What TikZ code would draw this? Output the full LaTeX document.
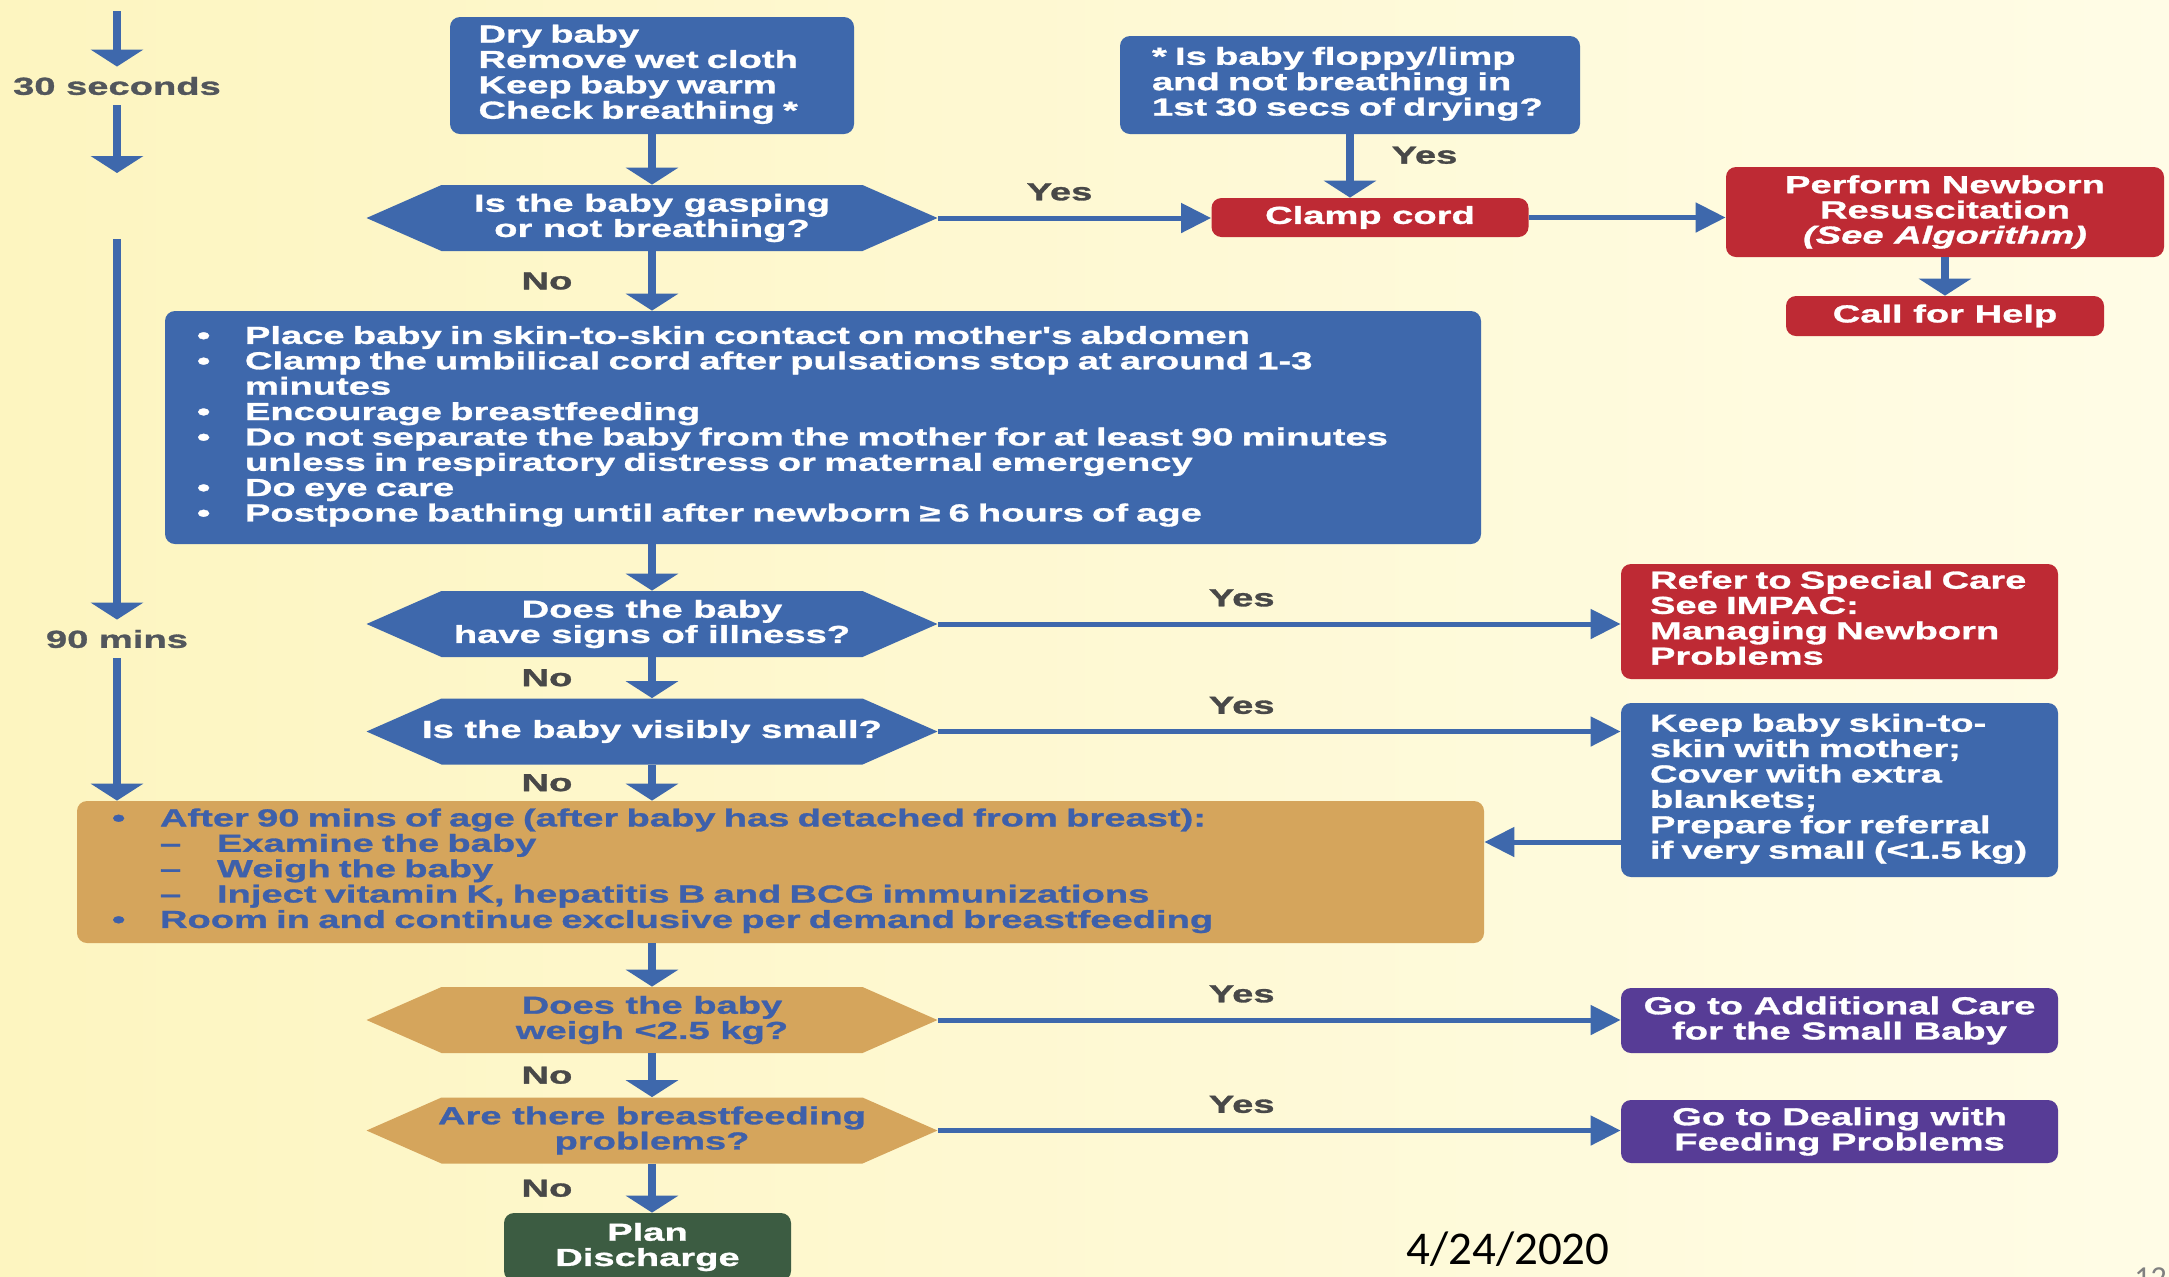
\documentclass[tikz,border=0pt]{standalone}
\usepackage{fontspec}
\newfontfamily\flowfont{Liberation Sans}[FakeStretch=1.55,FakeBold=1.2]
\newfontfamily\datefont{Carlito}
\usetikzlibrary{arrows.meta}
\definecolor{flowblue}{RGB}{62,104,172}
\definecolor{flowred}{RGB}{190,42,52}
\definecolor{flowtan}{RGB}{213,165,92}
\definecolor{flowpurple}{RGB}{87,60,150}
\definecolor{flowgreen}{RGB}{60,92,66}
\definecolor{tantext}{RGB}{62,96,170}
\definecolor{lblgrey}{RGB}{72,72,72}
\definecolor{timegrey}{RGB}{82,86,92}
\definecolor{bgleft}{RGB}{253,245,192}
\definecolor{bgright}{RGB}{255,252,230}
\newcommand{\flowtext}{\flowfont\bfseries\fontsize{12.3}{12.6}\selectfont}
\newcommand{\rows}[1]{\noindent\begin{tabular}{@{}l@{}}#1\end{tabular}}
\newcommand{\bul}{\makebox[24pt][l]{\textbullet}}
\newcommand{\bulind}{\hspace*{24pt}}
\newcommand{\dsh}{\makebox[28.5pt][l]{\textendash}}
% hexagon: name, x, y, fill, text colour, text
\newcommand{\decision}[6]{%
  \fill[#4] (#2-285.5,#3) -- (#2-210.5,#3-33) -- (#2+210.5,#3-33)
    -- (#2+285.5,#3) -- (#2+210.5,#3+33) -- (#2-210.5,#3+33) -- cycle;
  \node[hexnode,text=#5] (#1) at (#2,#3) {#6};}

\begin{document}
\begin{tikzpicture}[line cap=round,line join=round,x=0.5pt,y=-0.5pt,
  box/.style={rounded corners=5pt,inner sep=0pt,font=\flowtext,text=white},
  hexnode/.style={inner sep=0pt,minimum width=285.5pt,minimum height=33pt,align=center,font=\flowtext},
  varrow/.style={draw=flowblue,line width=3.6pt,line cap=butt,-{Triangle[width=26pt,length=8.5pt]}},
  harrow/.style={draw=flowblue,line width=2.5pt,line cap=butt,-{Triangle[width=14.5pt,length=15pt]}},
  lbl/.style={inner sep=0pt,font=\flowtext,text=lblgrey},
  yeslbl/.style={lbl,above=7.5pt,pos=0.445},
  nolbl/.style={lbl,left=38pt}]
  \useasboundingbox (0,0) rectangle (2169,1276);
  \clip (0,0) rectangle (2169,1276);
  \shade[left color=bgleft,right color=bgright] (0,0) rectangle (2169,1276);

  % time line on the left
  \node[lbl,inner sep=5pt,text=timegrey] (secs) at (117,86) {30 seconds};
  \node[lbl,inner sep=5pt,text=timegrey] (mins) at (117,639) {90 mins};
  \coordinate (tstart) at (117,11);
  \coordinate (tsec) at (117,173);
  \coordinate (tmid) at (117,239);

  % boxes
  \node[box,fill=flowblue,align=left,text width=173.5pt,inner xsep=14.25pt,minimum height=58.5pt] (dry) at (652,75.5)
    {\rows{Dry baby\\Remove wet cloth\\Keep baby warm\\Check breathing *}};
  \node[box,fill=flowblue,align=left,text width=198pt,inner xsep=16pt,minimum height=49pt] (floppy) at (1350,85)
    {\rows{* Is baby floppy/limp\\and not breathing in\\1st 30 secs of drying?}};
  \node[box,fill=flowred,minimum width=158.5pt,minimum height=19.5pt] (clamp) at (1370,217.5) {Clamp cord};
  \node[box,fill=flowred,align=center,minimum width=219pt,minimum height=45pt] (resus) at (1945,212)
    {Perform Newborn\\Resuscitation\\\itshape(See Algorithm)};
  \node[box,fill=flowred,minimum width=159pt,minimum height=20pt] (help) at (1945,316) {Call for Help};
  \node[box,fill=flowblue,align=left,text width=626pt,inner xsep=16pt,minimum height=116.5pt] (care) at (823,427.5)
    {\rows{\bul Place baby in skin-to-skin contact on mother's abdomen\\
      \bul Clamp the umbilical cord after pulsations stop at around 1-3\\
      \bulind minutes\\
      \bul Encourage breastfeeding\\
      \bul Do not separate the baby from the mother for at least 90 minutes\\
      \bulind unless in respiratory distress or maternal emergency\\
      \bul Do eye care\\
      \bul Postpone bathing until after newborn ≥ 6 hours of age}};
  \node[box,fill=flowred,align=left,text width=189.5pt,inner xsep=14.5pt,minimum height=57.5pt] (refer) at (1839.5,621.5)
    {\rows{Refer to Special Care\\See IMPAC:\\Managing Newborn\\Problems}};
  \node[box,fill=flowblue,align=left,text width=189.5pt,inner xsep=14.5pt,minimum height=87pt] (skin) at (1839.5,790)
    {\rows{Keep baby skin-to-\\skin with mother;\\Cover with extra\\blankets;\\Prepare for referral\\if very small (<1.5 kg)}};
  \node[box,fill=flowtan,text=tantext,align=left,text width=668.5pt,inner xsep=17.5pt,minimum height=71pt] (later) at (780.5,872)
    {\rows{\bul After 90 mins of age (after baby has detached from breast):\\
      \bulind\dsh Examine the baby\\
      \bulind\dsh Weigh the baby\\
      \bulind\dsh Inject vitamin K, hepatitis B and BCG immunizations\\
      \bul Room in and continue exclusive per demand breastfeeding}};
  \node[box,fill=flowpurple,align=center,minimum width=218.5pt,minimum height=32.5pt] (addcare) at (1839.5,1020.5)
    {Go to Additional Care\\for the Small Baby};
  \node[box,fill=flowpurple,align=center,minimum width=218.5pt,minimum height=31.5pt] (dealfeed) at (1839.5,1131.5)
    {Go to Dealing with\\Feeding Problems};
  \node[box,fill=flowgreen,align=center,minimum width=143.5pt,minimum height=34pt] (discharge) at (647.5,1247)
    {Plan\\Discharge};

  % decisions
  \decision{gasp}{652}{218}{flowblue}{white}{Is the baby gasping\\or not breathing?}
  \decision{ill}{652}{624}{flowblue}{white}{Does the baby\\have signs of illness?}
  \decision{small}{652}{731.5}{flowblue}{white}{Is the baby visibly small?}
  \decision{weigh}{652}{1020}{flowtan}{tantext}{Does the baby\\weigh <2.5 kg?}
  \decision{feed}{652}{1130.5}{flowtan}{tantext}{Are there breastfeeding\\problems?}

  % connectors
  \draw[varrow] (tstart) -- (secs.north);
  \draw[varrow] (secs.south) -- (tsec);
  \draw[varrow] (tmid) -- (mins.north);
  \draw[varrow] (mins.south) -- (mins.south |- later.north);
  \draw[varrow] (dry.south) -- (gasp.north);
  \draw[varrow] (care.south -| ill.north) -- (ill.north);
  \draw[varrow] (later.south -| weigh.north) -- (weigh.north);
  \draw[varrow] (floppy.south) -- node[lbl,right=19pt,pos=0.33] {Yes} (floppy.south |- clamp.north);
  \draw[varrow] (resus.south) -- (help.north);
  \draw[harrow] (clamp.east) -- (clamp.east -| resus.west);
  \foreach \a/\b in {gasp/care,ill/small,small/later,weigh/feed,feed/discharge}
    \draw[varrow] (\a.south) -- node[nolbl] {No} (\a.south |- \b.north);
  \foreach \a/\b in {gasp/clamp,ill/refer,small/skin,weigh/addcare,feed/dealfeed}
    \draw[harrow] (\a.east) -- node[yeslbl] {Yes} (\a.east -| \b.west);
  \draw[harrow] ([yshift=-26pt]skin.west) coordinate (back) -- (back -| later.east);

  \node[font=\datefont\fontsize{23.5}{28}\selectfont] (date) at (1508,1249) {4/24/2020};
  \node[anchor=north west,inner sep=0pt,text=gray,font=\datefont\fontsize{16}{19}\selectfont] (slide) at (2134,1267) {12};
\end{tikzpicture}
\end{document}
